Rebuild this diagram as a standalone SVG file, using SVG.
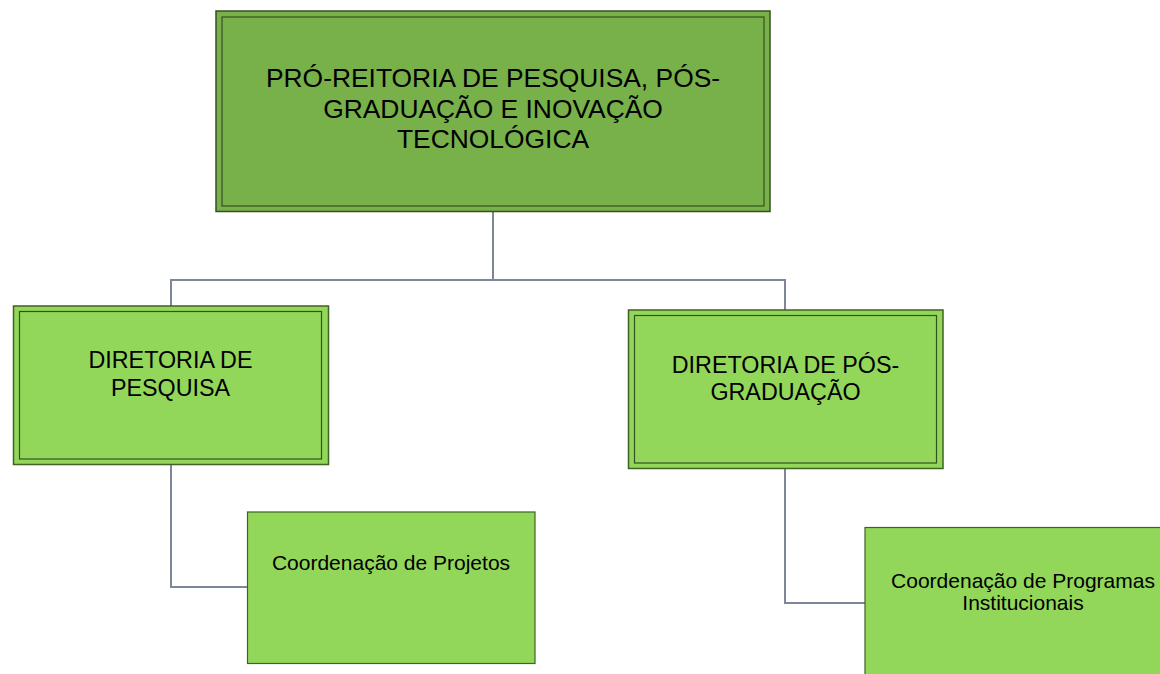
<svg xmlns="http://www.w3.org/2000/svg" width="1160" height="674" viewBox="0 0 1160 674">
  <style>
    .bg { fill: #ffffff; }
    .top { fill: #78b049; stroke: #34521e; stroke-width: 1.5; }
    .mid { fill: #92d65a; stroke: #3f6322; stroke-width: 1.5; }
    .inner { fill: none; stroke: #34521e; stroke-width: 1.2; }
    .low { fill: #92d65a; stroke: #3f6322; stroke-width: 1.2; }
    .conn { fill: none; stroke: #7d8797; stroke-width: 2; }
    text { font-family: "Liberation Sans", Arial, sans-serif; fill: #000000; text-anchor: middle; }
    .t1 { font-size: 26.4px; }
    .t2 { font-size: 23.3px; }
    .t3 { font-size: 21px; }
  </style>
  <rect class="bg" x="0" y="0" width="1160" height="674"/>
  <g id="connectors">
    <path class="conn" d="M493,212 V280 M171,306 V280 H785 V310"/>
    <path class="conn" d="M171,465 V587 H247"/>
    <path class="conn" d="M785,469 V603 H865"/>
  </g>
  <g id="node-proreitoria">
    <rect class="top" x="216" y="11" width="554" height="200.5"/>
    <rect class="inner" x="222" y="17" width="542" height="189"/>
    <text class="t1" x="493" y="87.3">PRÓ-REITORIA DE PESQUISA, PÓS-</text>
    <text class="t1" x="493" y="117.5">GRADUAÇÃO E INOVAÇÃO</text>
    <text class="t1" x="493" y="148">TECNOLÓGICA</text>
  </g>
  <g id="node-diretoria-pesquisa">
    <rect class="mid" x="13.5" y="306" width="315" height="158.5"/>
    <rect class="inner" x="19.5" y="311.5" width="302" height="147.5"/>
    <text class="t2" x="170.5" y="368.3">DIRETORIA DE</text>
    <text class="t2" x="170.5" y="395.7">PESQUISA</text>
  </g>
  <g id="node-diretoria-pos">
    <rect class="mid" x="628.5" y="310" width="314.5" height="158.5"/>
    <rect class="inner" x="634.5" y="315.5" width="302" height="147.5"/>
    <text class="t2" x="785.5" y="373.3">DIRETORIA DE PÓS-</text>
    <text class="t2" x="785.5" y="400.3">GRADUAÇÃO</text>
  </g>
  <g id="node-coord-projetos">
    <rect class="low" x="247.5" y="512" width="287.5" height="151.5"/>
    <text class="t3" x="391" y="570">Coordenação de Projetos</text>
  </g>
  <g id="node-coord-programas">
    <rect class="low" x="865" y="527.5" width="330" height="160"/>
    <text class="t3" x="1023" y="587.7">Coordenação de Programas</text>
    <text class="t3" x="1023" y="609.5">Institucionais</text>
  </g>
</svg>
